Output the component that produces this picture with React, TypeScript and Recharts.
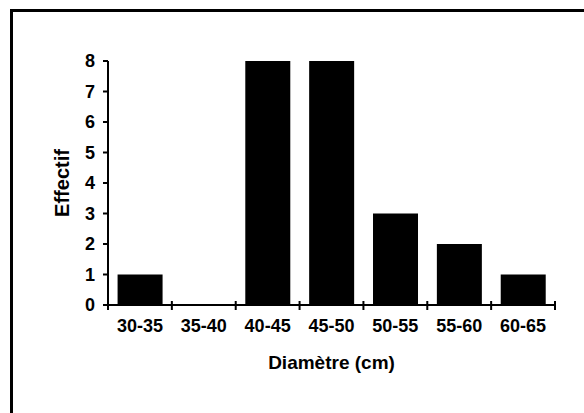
import { BarChart, Bar, XAxis, YAxis } from 'recharts'

// Répartition des diamètres (classes de 5 cm)
const classes = ['30-35', '35-40', '40-45', '45-50', '50-55', '55-60', '60-65']
const effectifs = [1, 0, 8, 8, 3, 2, 1]
const yTicks = [0, 1, 2, 3, 4, 5, 6, 7, 8]

const data = classes.map((c, i) => ({ classe: c, effectif: effectifs[i] }))

const W = 584
const H = 413
const MARGIN = { top: 61, right: 29, left: 48, bottom: 48 }
const Y_AXIS_W = 60
const BAND = (W - MARGIN.left - MARGIN.right - Y_AXIS_W) / classes.length
const FONT = 'Arial, "Liberation Sans", Helvetica, sans-serif'

function XTick(props: any) {
  const { x, y, payload, index } = props
  const half = payload?.offset || BAND / 2
  return (
    <g>
      <line x1={x - half} x2={x - half} y1={y - 4} y2={y + 5} stroke="#000" strokeWidth={2} />
      {index === classes.length - 1 && (
        <line x1={x + half} x2={x + half} y1={y - 4} y2={y + 5} stroke="#000" strokeWidth={2} />
      )}
      <text x={x} y={y + 27} textAnchor="middle" fontSize={18} fontWeight="bold" fill="#000" fontFamily={FONT}>
        {payload.value}
      </text>
    </g>
  )
}

export default function App() {
  return (
    <div style={{ position: 'absolute', left: 0, top: 0, width: W, height: H, background: '#fff', overflow: 'hidden' }}>
      <div
        style={{
          position: 'absolute',
          left: 10,
          top: 9,
          width: W,
          height: H,
          borderLeft: '3px solid #000',
          borderTop: '3px solid #000',
        }}
      />
      <BarChart
        width={W}
        height={H}
        data={data}
        margin={MARGIN}
        barCategoryGap="15%"
        style={{ position: 'absolute', left: 0, top: 0, fontFamily: FONT }}
      >
        <XAxis
          dataKey="classe"
          height={60}
          stroke="#000"
          strokeWidth={2}
          tickLine={false}
          tickSize={0}
          tickMargin={0}
          interval={0}
          tick={<XTick />}
          label={{
            value: 'Diamètre (cm)',
            position: 'insideBottom',
            offset: -4,
            fill: '#000',
            fontSize: 19,
            fontWeight: 'bold',
          }}
        />
        <YAxis
          width={Y_AXIS_W}
          domain={[0, 8]}
          ticks={yTicks}
          interval={0}
          stroke="#000"
          strokeWidth={2}
          tickSize={5}
          tickMargin={8}
          tick={{ fill: '#000', fontSize: 18, fontWeight: 'bold' }}
          label={{
            value: 'Effectif',
            angle: -90,
            position: 'center',
            dx: -16,
            fill: '#000',
            fontSize: 20,
            fontWeight: 'bold',
          }}
        />
        <Bar dataKey="effectif" fill="#000" isAnimationActive={false} />
      </BarChart>
    </div>
  )
}
